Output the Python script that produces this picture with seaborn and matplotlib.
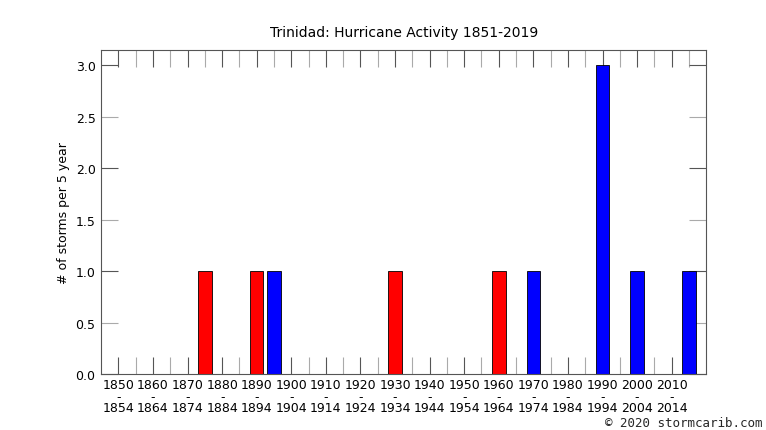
import matplotlib
matplotlib.use("Agg")
import matplotlib.pyplot as plt
import seaborn as sns
import pandas as pd
from matplotlib.ticker import FixedLocator, FixedFormatter

# 5-year bins, 1850-1854 ... 2015-2019
bin_start = list(range(1850, 2020, 5))
counts = [0, 0, 0, 0, 0, 1, 0, 0, 1, 1,
          0, 0, 0, 0, 0, 0, 1, 0, 0, 0,
          0, 0, 1, 0, 1, 0, 0, 0, 3, 0,
          1, 0, 0, 1]
kind = ["", "", "", "", "", "red", "", "", "red", "blue",
        "", "", "", "", "", "", "red", "", "", "",
        "", "", "red", "", "blue", "", "", "", "blue", "",
        "blue", "", "", "blue"]

df = pd.DataFrame({"idx": range(len(bin_start)), "count": counts, "kind": kind})
df = df[df["count"] > 0]

sns.set_style("white")
plt.rcParams["font.family"] = ["DejaVu Sans"]

fig = plt.figure(figsize=(7.66, 4.31), dpi=100)
ax = fig.add_axes([0.132, 0.130, 0.790, 0.752])

sns.barplot(data=df, x="idx", y="count", hue="kind", native_scale=True,
            palette={"red": "#ff0000", "blue": "#0000ff"}, dodge=False,
            saturation=1, width=0.78, edgecolor="black", linewidth=0.6,
            legend=False, ax=ax)

ax.set_xlim(-1, 34)
ax.set_ylim(0, 3.15)

# x ticks: labels every 10 years, ticks every bin
major_x = list(range(0, len(bin_start), 2))
minor_x = list(range(1, len(bin_start), 2))
ax.xaxis.set_major_locator(FixedLocator(major_x))
ax.xaxis.set_major_formatter(FixedFormatter(
    [f"{bin_start[i]}\n-\n{bin_start[i] + 4}" for i in major_x]))
ax.xaxis.set_minor_locator(FixedLocator(minor_x))

ax.yaxis.set_major_locator(FixedLocator([0, 1, 2, 3]))
ax.yaxis.set_major_formatter(FixedFormatter(["0.0", "1.0", "2.0", "3.0"]))
ax.yaxis.set_minor_locator(FixedLocator([0.5, 1.5, 2.5]))
ax.yaxis.set_minor_formatter(FixedFormatter(["0.5", "1.5", "2.5"]))

ax.tick_params(which="both", direction="in", length=12.2, width=0.8,
               top=True, right=True, bottom=True, left=True, labelsize=9,
               labelcolor="black", pad=4)
ax.tick_params(which="major", color="#555555")
ax.tick_params(which="minor", color="#aaaaaa")
ax.tick_params(axis="x", which="both", pad=3)

fig.canvas.draw()
for t in ax.xaxis.get_major_ticks():
    t.label1.set_linespacing(0.85)

for s in ax.spines.values():
    s.set_color("#555555")
    s.set_linewidth(0.8)

ax.set_xlabel("")
ax.set_ylabel("# of storms per 5 year", fontsize=9, color="black")
ax.set_title("Trinidad: Hurricane Activity 1851-2019", fontsize=10, pad=10,
             color="black")

fig.text(0.995, 0.003, "\u00a9 2020 stormcarib.com", ha="right", va="bottom",
         fontsize=9, family="DejaVu Sans Mono")

fig.savefig("out.png", dpi=100)
